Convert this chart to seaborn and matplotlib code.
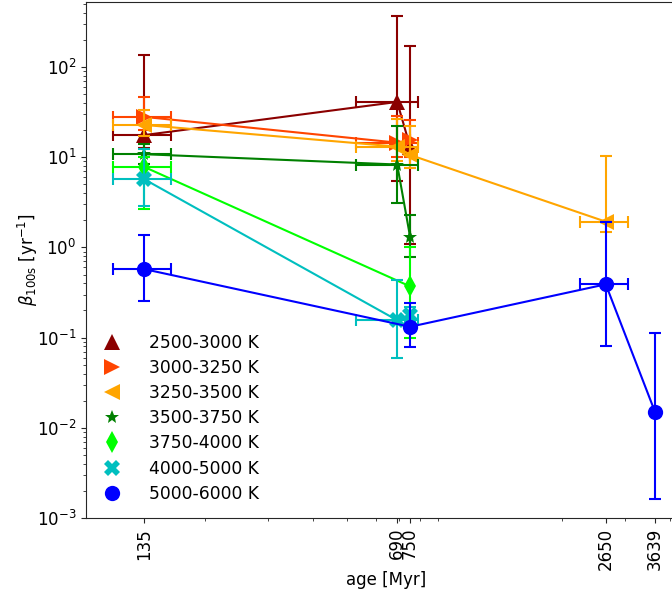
import matplotlib
matplotlib.use("Agg")
import matplotlib.pyplot as plt
import seaborn as sns
import pandas as pd
from matplotlib.lines import Line2D
from matplotlib.ticker import NullFormatter

# --- data ---
teff_labels = ["2500-3000 K", "3000-3250 K", "3250-3500 K", "3500-3750 K",
               "3750-4000 K", "4000-5000 K", "5000-6000 K"]
colors = ["darkred", "orangered", "orange", "green", "lime", "c", "blue"]
markers = ["^", ">", "<", "*", "d", "X", "o"]
msizes = [11, 11, 11, 10, 11, 11, 11]

# age [Myr] and horizontal errors (minus / plus)
age_2500 = [135, 690, 750]
age_3000 = [135, 690, 750]
age_3250 = [135, 690, 750, 2650]
age_3500 = [135, 690, 750]
age_3750 = [135, 750]
age_4000 = [135, 690, 750]
age_5000 = [135, 750, 2650, 3639]

xlo_2500, xhi_2500 = [25, 160, 0], [25, 100, 0]
xlo_3000, xhi_3000 = [25, 160, 0], [25, 100, 0]
xlo_3250, xhi_3250 = [25, 160, 0, 400], [25, 100, 0, 400]
xlo_3500, xhi_3500 = [25, 160, 0], [25, 100, 0]
xlo_3750, xhi_3750 = [25, 0], [25, 0]
xlo_4000, xhi_4000 = [25, 160, 0], [25, 100, 0]
xlo_5000, xhi_5000 = [25, 0, 400, 0], [25, 0, 400, 0]

# beta_100s [1/yr] with lower / upper ends of the error bars
beta_2500 = [17.6, 41, 13.1]
low_2500 = [12.5, 5.4, 1.09]
high_2500 = [136, 371, 171]

beta_3000 = [28, 14.5, 15.5]
low_3000 = [20, 10, 10]
high_3000 = [47, 29, 26]

beta_3250 = [22.8, 13.1, 10.6, 1.93]
low_3250 = [17, 9, 7.5, 1.5]
high_3250 = [33, 26.5, 22, 10.4]

beta_3500 = [10.8, 8.3, 1.31]
low_3500 = [8.5, 3.08, 0.79]
high_3500 = [14, 22.4, 2.27]

beta_3750 = [7.8, 0.37]
low_3750 = [2.7, 0.10]
high_3750 = [10, 1.0]

beta_4000 = [5.7, 0.156, 0.18]
low_4000 = [2.9, 0.06, 0.15]
high_4000 = [12.3, 0.435, 0.22]

beta_5000 = [0.575, 0.132, 0.39, 0.0151]
low_5000 = [0.257, 0.0797, 0.08, 0.00163]
high_5000 = [1.37, 0.242, 1.9, 0.113]

series = [
    (age_2500, xlo_2500, xhi_2500, beta_2500, low_2500, high_2500),
    (age_3000, xlo_3000, xhi_3000, beta_3000, low_3000, high_3000),
    (age_3250, xlo_3250, xhi_3250, beta_3250, low_3250, high_3250),
    (age_3500, xlo_3500, xhi_3500, beta_3500, low_3500, high_3500),
    (age_3750, xlo_3750, xhi_3750, beta_3750, low_3750, high_3750),
    (age_4000, xlo_4000, xhi_4000, beta_4000, low_4000, high_4000),
    (age_5000, xlo_5000, xhi_5000, beta_5000, low_5000, high_5000),
]
age_ticks = [135, 690, 750, 2650, 3639]

sns.set_style("ticks")
plt.rcParams["font.size"] = 12
plt.rcParams["text.color"] = "black"
plt.rcParams["axes.labelcolor"] = "black"
plt.rcParams["xtick.labelcolor"] = "black"
plt.rcParams["ytick.labelcolor"] = "black"

fig = plt.figure(figsize=(6.72, 6.01), dpi=100)
# axes run past the right edge of the canvas, like the original crop
ax = fig.add_axes([0.128, 0.138, 0.893, 0.8586])

for (age, xlo, xhi, beta, low, high), col, mk, ms in zip(series, colors, markers, msizes):
    df = pd.DataFrame({"age": age, "beta": beta})
    yerr = [[b - l for b, l in zip(beta, low)], [h - b for b, h in zip(beta, high)]]
    ax.errorbar(age, beta, xerr=[xlo, xhi], yerr=yerr, fmt="none", ecolor=col,
                elinewidth=1.5, capsize=4, capthick=1.5)
    sns.lineplot(data=df, x="age", y="beta", color=col, marker=mk, markersize=ms,
                 markeredgewidth=0, linewidth=1.5, sort=True, estimator=None, ax=ax)

ax.set_xscale("log")
ax.set_yscale("log")
ax.set_xlim(92.7, 4450)
ax.set_ylim(1e-3, 525)
ax.set_xticks(age_ticks)
ax.set_xticklabels([str(a) for a in age_ticks], rotation=90)
ax.xaxis.set_minor_formatter(NullFormatter())
ax.tick_params(labelsize=12)
ax.set_xlabel("age [Myr]")
ax.set_ylabel(r"$\beta_{\rm 100s}$ [yr$^{-1}$]")
ax.xaxis.set_label_coords(0.5, -0.103)
ax.yaxis.set_label_coords(-0.077, 0.5)

handles = [Line2D([], [], ls="none", marker=mk, color=col, markersize=ms, markeredgewidth=0)
           for col, mk, ms in zip(colors, markers, msizes)]
ax.legend(handles, teff_labels, loc="lower left", frameon=False, fontsize=12.3,
          handlelength=1.3, handletextpad=1.5, labelspacing=0.42)

fig.savefig("out.png", dpi=100)
